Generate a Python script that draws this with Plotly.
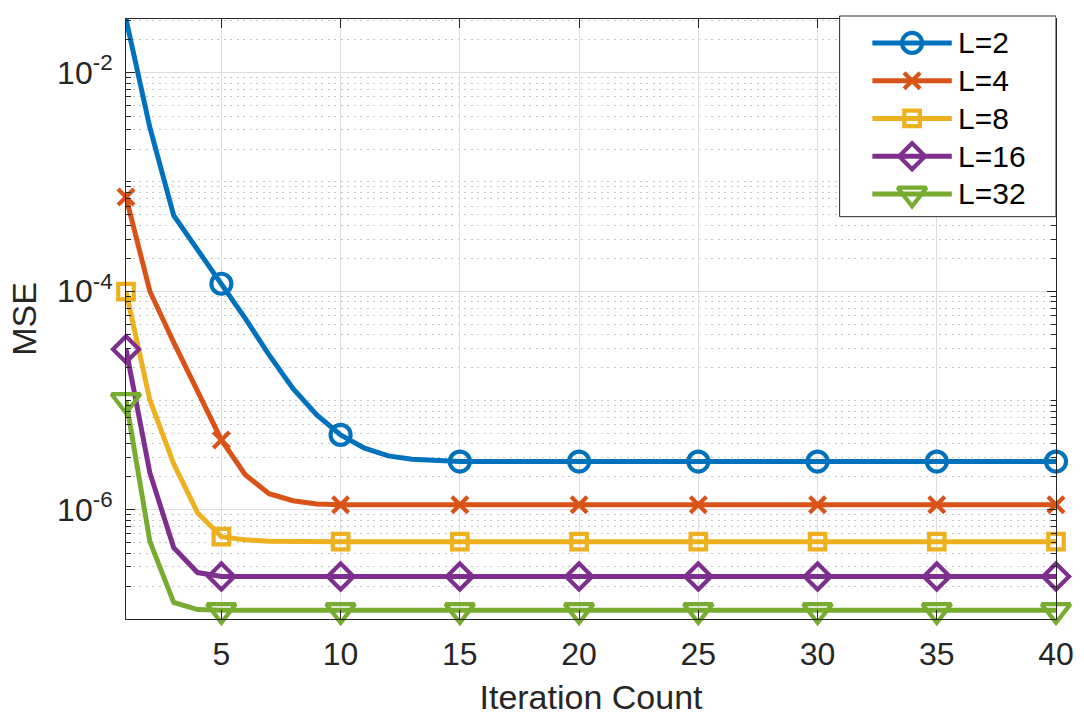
import plotly.graph_objects as go

# Iteration index and MSE per relay count L
iterations = list(range(1, 41))

mse_L2 = [3.1e-2, 3.15e-3, 4.94e-4, 2.42e-4, 1.17e-4, 5.64e-5, 2.61e-5, 1.29e-5, 7.38e-6, 4.84e-6,
          3.66e-6, 3.11e-6, 2.90e-6, 2.80e-6, 2.76e-6, 2.76e-6, 2.76e-6, 2.76e-6, 2.76e-6, 2.76e-6,
          2.76e-6, 2.76e-6, 2.76e-6, 2.76e-6, 2.76e-6, 2.76e-6, 2.76e-6, 2.76e-6, 2.76e-6, 2.76e-6,
          2.76e-6, 2.76e-6, 2.76e-6, 2.76e-6, 2.76e-6, 2.76e-6, 2.76e-6, 2.76e-6, 2.76e-6, 2.76e-6]
mse_L4 = [7.26e-4, 1.0e-4, 3.4e-5, 1.2e-5, 4.35e-6, 2.09e-6, 1.40e-6, 1.21e-6, 1.13e-6, 1.11e-6,
          1.11e-6, 1.11e-6, 1.11e-6, 1.11e-6, 1.11e-6, 1.11e-6, 1.11e-6, 1.11e-6, 1.11e-6, 1.11e-6,
          1.11e-6, 1.11e-6, 1.11e-6, 1.11e-6, 1.11e-6, 1.11e-6, 1.11e-6, 1.11e-6, 1.11e-6, 1.11e-6,
          1.11e-6, 1.11e-6, 1.11e-6, 1.11e-6, 1.11e-6, 1.11e-6, 1.11e-6, 1.11e-6, 1.11e-6, 1.11e-6]
mse_L8 = [9.9e-5, 1.01e-5, 2.63e-6, 9.4e-7, 5.67e-7, 5.3e-7, 5.15e-7, 5.1e-7, 5.1e-7, 5.1e-7,
          5.1e-7, 5.1e-7, 5.1e-7, 5.1e-7, 5.1e-7, 5.1e-7, 5.1e-7, 5.1e-7, 5.1e-7, 5.1e-7,
          5.1e-7, 5.1e-7, 5.1e-7, 5.1e-7, 5.1e-7, 5.1e-7, 5.1e-7, 5.1e-7, 5.1e-7, 5.1e-7,
          5.1e-7, 5.1e-7, 5.1e-7, 5.1e-7, 5.1e-7, 5.1e-7, 5.1e-7, 5.1e-7, 5.1e-7, 5.1e-7]
mse_L16 = [2.94e-5, 2.18e-6, 4.5e-7, 2.66e-7, 2.45e-7, 2.45e-7, 2.45e-7, 2.45e-7, 2.45e-7, 2.45e-7,
           2.45e-7, 2.45e-7, 2.45e-7, 2.45e-7, 2.45e-7, 2.45e-7, 2.45e-7, 2.45e-7, 2.45e-7, 2.45e-7,
           2.45e-7, 2.45e-7, 2.45e-7, 2.45e-7, 2.45e-7, 2.45e-7, 2.45e-7, 2.45e-7, 2.45e-7, 2.45e-7,
           2.45e-7, 2.45e-7, 2.45e-7, 2.45e-7, 2.45e-7, 2.45e-7, 2.45e-7, 2.45e-7, 2.45e-7, 2.45e-7]
mse_L32 = [1.0e-5, 5.14e-7, 1.42e-7, 1.22e-7, 1.2e-7, 1.2e-7, 1.2e-7, 1.2e-7, 1.2e-7, 1.2e-7,
           1.2e-7, 1.2e-7, 1.2e-7, 1.2e-7, 1.2e-7, 1.2e-7, 1.2e-7, 1.2e-7, 1.2e-7, 1.2e-7,
           1.2e-7, 1.2e-7, 1.2e-7, 1.2e-7, 1.2e-7, 1.2e-7, 1.2e-7, 1.2e-7, 1.2e-7, 1.2e-7,
           1.2e-7, 1.2e-7, 1.2e-7, 1.2e-7, 1.2e-7, 1.2e-7, 1.2e-7, 1.2e-7, 1.2e-7, 1.2e-7]

series_names = ["L=2", "L=4", "L=8", "L=16", "L=32"]
series_values = [mse_L2, mse_L4, mse_L8, mse_L16, mse_L32]

x_tick_vals = [5, 10, 15, 20, 25, 30, 35, 40]
y_tick_vals = [1e-6, 1e-4, 1e-2]
y_tick_text = ["10<sup>-6</sup>", "10<sup>-4</sup>", "10<sup>-2</sup>"]

colors = ["#0072BD", "#D95319", "#EDB120", "#7E2F8E", "#77AC30"]
symbols = ["circle-open", "x-thin-open", "square-open", "diamond-open", "triangle-down-open"]
sizes = [20, 16, 15.5, 20, 25]

# markers every 5th iteration (plus the first)
marker_idx = [0] + list(range(4, 40, 5))

FONT = "Liberation Sans, Arial, Helvetica, sans-serif"
INK = "#262626"
LINE_W, MARK_W = 5, 4.2

W, H = 1084, 719
ML, MR, MT, MB = 126, 21, 10, 99
plot_h = H - MT - MB
top_px = 19  # top edge of the axes box
main_ydom_top = (plot_h - (top_px - MT)) / plot_h

fig = go.Figure()

for name, vals, c, sym, sz in zip(series_names, series_values, colors, symbols, sizes):
    fig.add_trace(go.Scatter(
        x=iterations, y=vals, mode="lines",
        line=dict(color=c, width=LINE_W), showlegend=False, hoverinfo="skip",
    ))
    fig.add_trace(go.Scatter(
        x=[iterations[i] for i in marker_idx], y=[vals[i] for i in marker_idx],
        mode="markers", cliponaxis=False, showlegend=False, name=name,
        marker=dict(symbol=sym, size=sz, color=c, line=dict(color=c, width=MARK_W)),
    ))

# Legend drawn in an overlay subplot measured in pixels
lg_left, lg_right, lg_top, lg_bottom = 845, 1063, 16, 217
row0, row_step = 43, 37.8
line_x0, line_x1, text_x = 878, 958, 962

fig.add_trace(go.Scatter(
    x=[lg_left, lg_right, lg_right, lg_left, lg_left],
    y=[lg_top, lg_top, lg_bottom, lg_bottom, lg_top],
    mode="lines", fill="toself", fillcolor="white",
    line=dict(color=INK, width=1), xaxis="x2", yaxis="y2",
    showlegend=False, hoverinfo="skip",
))
for k, (name, c, sym, sz) in enumerate(zip(series_names, colors, symbols, sizes)):
    ry = row0 + k * row_step
    fig.add_trace(go.Scatter(
        x=[line_x0, line_x1], y=[ry, ry], mode="lines",
        line=dict(color=c, width=LINE_W), xaxis="x2", yaxis="y2",
        showlegend=False, hoverinfo="skip",
    ))
    fig.add_trace(go.Scatter(
        x=[(line_x0 + line_x1) / 2], y=[ry], mode="markers",
        marker=dict(symbol=sym, size=sz, color=c, line=dict(color=c, width=MARK_W)),
        xaxis="x2", yaxis="y2", showlegend=False, hoverinfo="skip",
    ))
    fig.add_annotation(
        x=text_x, y=ry, xref="x2", yref="y2", text=name, showarrow=False,
        xanchor="left", yanchor="middle", font=dict(family=FONT, size=30, color="black"),
    )

axis_common = dict(
    showline=True, linecolor=INK, linewidth=1, mirror="ticks",
    ticks="inside", tickcolor=INK, tickwidth=1, ticklen=9,
    showgrid=True, gridcolor="#dedede", gridwidth=1,
    tickfont=dict(family=FONT, size=32, color=INK),
    zeroline=False,
)

fig.update_layout(
    width=W, height=H,
    margin=dict(l=ML, r=MR, t=MT, b=MB),
    paper_bgcolor="white", plot_bgcolor="rgba(0,0,0,0)",
    showlegend=False,
    xaxis=dict(
        range=[1, 40], tickmode="array", tickvals=x_tick_vals,
        title=dict(text="Iteration Count", font=dict(family=FONT, size=34, color=INK), standoff=13),
        ticklabelstandoff=7,
        **axis_common,
    ),
    yaxis=dict(
        type="log", range=[-7, -1.509], domain=[0, main_ydom_top],
        tickmode="array", tickvals=y_tick_vals, ticktext=y_tick_text,
        minor=dict(dtick="D1", ticks="inside", ticklen=5, tickcolor=INK,
                   showgrid=True, gridcolor="#c6c6c6", griddash="2px,4.5px", gridwidth=1),
        title=dict(text="MSE", font=dict(family=FONT, size=34, color=INK), standoff=10),
        ticklabelstandoff=6,
        **axis_common,
    ),
    xaxis2=dict(domain=[0, 1], range=[ML, W - MR], visible=False, anchor="y2"),
    yaxis2=dict(domain=[0, 1], range=[H - MB, MT], visible=False, anchor="x2"),
)

fig.write_html("out.html")
